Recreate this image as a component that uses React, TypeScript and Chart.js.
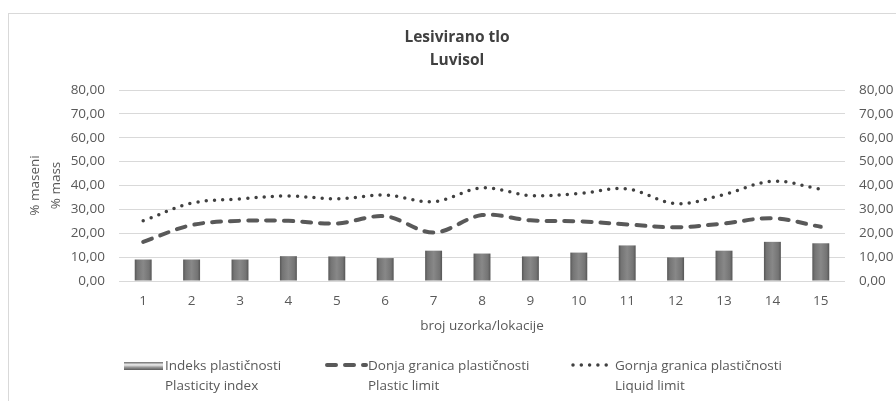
import React, { useEffect, useRef } from "react";
import { Chart, registerables } from "chart.js";

Chart.register(...registerables);

const categories = ["1", "2", "3", "4", "5", "6", "7", "8", "9", "10", "11", "12", "13", "14", "15"];
const plasticityIndex = [9.0, 9.0, 9.0, 10.4, 10.3, 9.6, 12.7, 11.5, 10.3, 11.9, 14.9, 9.9, 12.7, 16.4, 15.8];
const plasticLimit = [16.4, 23.4, 25.2, 25.2, 24.1, 27.1, 20.3, 27.6, 25.4, 25.0, 23.7, 22.5, 24.1, 26.3, 22.7];
const liquidLimit = [25.2, 32.6, 34.4, 35.6, 34.4, 36.0, 33.2, 39.0, 35.8, 36.6, 38.6, 32.4, 36.2, 41.8, 38.4];
const yTicks = [0, 10, 20, 30, 40, 50, 60, 70, 80];
const titleLines = ["Lesivirano tlo", "Luvisol"];
const yTitleLines = ["% maseni", "% mass"];
const xTitle = "broj uzorka/lokacije";
const legendItems = [
  ["Indeks plastičnosti", "Plasticity index"],
  ["Donja granica plastičnosti", "Plastic limit"],
  ["Gornja granica plastičnosti", "Liquid limit"],
];

const FONT = "'Open Sans', 'Noto Sans', sans-serif";
const TEXT = "#595959";
const FS = 13.5;

const fmt = (v: number) => v.toFixed(2).replace(".", ",");

export default function App() {
  const ref = useRef<HTMLCanvasElement | null>(null);

  useEffect(() => {
    if (!ref.current) return;
    const barFill = (ctx: any) => {
      const chart = ctx.chart;
      const xs = chart.scales && chart.scales.x;
      if (!xs || !xs.width || ctx.type !== "data") return "#7a7a7a";
      const cx = xs.getPixelForValue(ctx.dataIndex);
      const w = (xs.width / categories.length) * 0.35;
      const g = chart.ctx.createLinearGradient(cx - w / 2, 0, cx + w / 2, 0);
      g.addColorStop(0, "#575757");
      g.addColorStop(0.15, "#747474");
      g.addColorStop(0.5, "#888888");
      g.addColorStop(0.85, "#747474");
      g.addColorStop(1, "#555555");
      return g;
    };
    const chart = new Chart(ref.current, {
      type: "bar",
      data: {
        labels: categories,
        datasets: [
          {
            type: "bar",
            label: legendItems[0].join(" "),
            data: plasticityIndex,
            backgroundColor: barFill,
            borderWidth: 0,
            barPercentage: 0.35,
            categoryPercentage: 1,
            yAxisID: "y",
            order: 3,
          } as any,
          {
            type: "line",
            label: legendItems[1].join(" "),
            data: plasticLimit,
            borderColor: "#595959",
            borderWidth: 4,
            borderDash: [9, 9],
            borderCapStyle: "round",
            pointRadius: 0,
            tension: 0.35,
            fill: false,
            yAxisID: "y",
            order: 2,
          } as any,
          {
            type: "line",
            label: legendItems[2].join(" "),
            data: liquidLimit,
            borderColor: "#404040",
            borderWidth: 3.5,
            borderDash: [0, 8.3],
            borderCapStyle: "round",
            pointRadius: 0,
            tension: 0.35,
            fill: false,
            yAxisID: "y",
            order: 1,
          } as any,
        ],
      },
      options: {
        responsive: false,
        animation: false,
        layout: { padding: { left: 18, right: 0, top: 0, bottom: 68 } },
        plugins: {
          legend: { display: false },
          tooltip: { enabled: false },
          title: {
            display: true,
            text: titleLines,
            color: "#404040",
            font: { family: FONT, size: 15.5, weight: "bold", lineHeight: "23px" } as any,
            padding: { top: 26.5, bottom: 17.5 },
          },
        },
        scales: {
          x: {
            grid: { display: false, drawTicks: false },
            border: { display: false },
            ticks: { color: TEXT, font: { family: FONT, size: FS }, padding: 12.5 },
            title: {
              display: true,
              text: xTitle,
              color: TEXT,
              font: { family: FONT, size: FS, lineHeight: "14px" } as any,
              padding: { top: 0, bottom: 0 },
            },
            afterFit: (s: any) => {
              s.height = 52;
            },
          },
          y: {
            position: "left",
            min: 0,
            max: 80,
            afterBuildTicks: (s: any) => {
              s.ticks = yTicks.map((v) => ({ value: v }));
            },
            grid: { color: "#d9d9d9", drawTicks: false, lineWidth: 1 },
            border: { display: false },
            ticks: { color: TEXT, font: { family: FONT, size: FS }, padding: 14, callback: (v: any) => fmt(Number(v)) },
            title: {
              display: true,
              text: yTitleLines,
              color: TEXT,
              font: { family: FONT, size: FS, lineHeight: "21px" } as any,
              padding: { top: 7, bottom: 0 },
            },
            afterFit: (s: any) => {
              s.width = 101;
            },
          },
          y2: {
            position: "right",
            min: 0,
            max: 80,
            afterBuildTicks: (s: any) => {
              s.ticks = yTicks.map((v) => ({ value: v }));
            },
            grid: { display: false, drawTicks: false },
            border: { display: false },
            ticks: { color: TEXT, font: { family: FONT, size: FS }, padding: 14, callback: (v: any) => fmt(Number(v)) },
            afterFit: (s: any) => {
              s.width = 51;
            },
          },
        },
      },
    });
    return () => chart.destroy();
  }, []);

  const legendText: React.CSSProperties = {
    position: "absolute",
    top: 355,
    fontFamily: FONT,
    fontSize: FS,
    lineHeight: "20px",
    color: TEXT,
    whiteSpace: "nowrap",
  };

  return (
    <div style={{ position: "absolute", left: 0, top: 0, width: 896, height: 401, overflow: "hidden", background: "#fff" }}>
      <div
        style={{
          position: "absolute",
          left: 8,
          top: 13,
          width: 920,
          height: 420,
          border: "1px solid #d9d9d9",
          boxSizing: "border-box",
        }}
      />
      <canvas ref={ref} width={896} height={401} style={{ position: "absolute", left: 0, top: 0, width: 896, height: 401 }} />
      {/* legend */}
      <div
        style={{
          position: "absolute",
          left: 124,
          top: 362,
          width: 39,
          height: 8,
          background: "linear-gradient(to bottom, #6a6a6a 0%, #f0f0f0 35%, #9a9a9a 65%, #5a5a5a 100%)",
        }}
      />
      <div style={{ ...legendText, left: 165 }}>
        {legendItems[0][0]}
        <br />
        {legendItems[0][1]}
      </div>
      <svg style={{ position: "absolute", left: 324, top: 360 }} width={44} height={10}>
        <line x1={3} y1={5} x2={42} y2={5} stroke="#595959" strokeWidth={4} strokeDasharray="9 9" strokeLinecap="round" />
      </svg>
      <div style={{ ...legendText, left: 368 }}>
        {legendItems[1][0]}
        <br />
        {legendItems[1][1]}
      </div>
      <svg style={{ position: "absolute", left: 570, top: 360 }} width={44} height={10}>
        <line x1={3} y1={5} x2={42} y2={5} stroke="#404040" strokeWidth={3.5} strokeDasharray="0 8.3" strokeLinecap="round" />
      </svg>
      <div style={{ ...legendText, left: 615 }}>
        {legendItems[2][0]}
        <br />
        {legendItems[2][1]}
      </div>
    </div>
  );
}
